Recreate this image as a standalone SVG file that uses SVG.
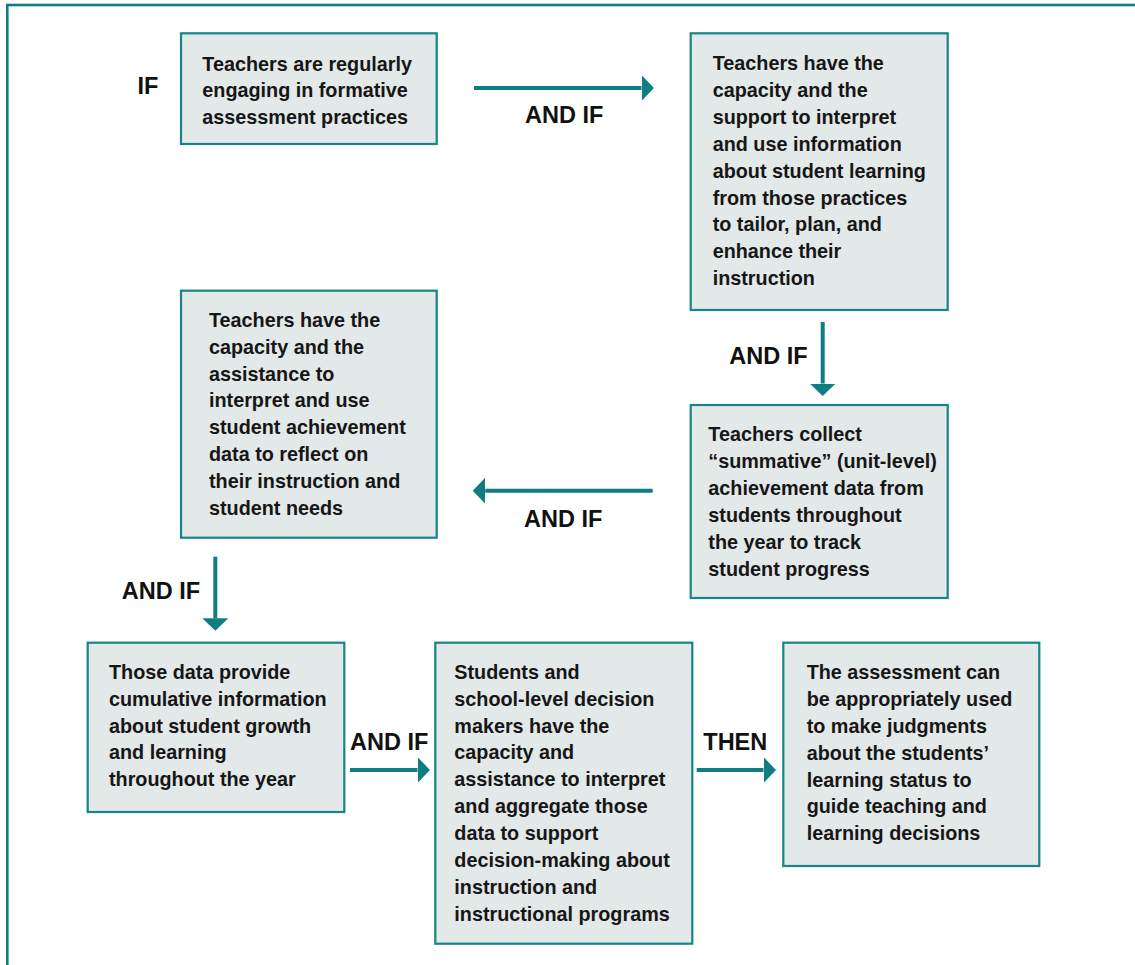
<svg xmlns="http://www.w3.org/2000/svg" width="1135" height="965" viewBox="0 0 1135 965">
<defs>
<style>
.frame{fill:none;stroke:#0f7e82;stroke-width:2.6}
.box{fill:#e3e8e8;stroke:#168488;stroke-width:2.2}
.t{font-family:"Liberation Sans",Arial,sans-serif;font-weight:bold;font-size:19.8px;fill:#161616}
.lbl{font-family:"Liberation Sans",Arial,sans-serif;font-weight:bold;font-size:23.5px;fill:#111}
.conn{stroke:#0f7e82;stroke-width:4;fill:none;marker-end:url(#ah)}
</style>
<marker id="ah" markerUnits="userSpaceOnUse" markerWidth="13" markerHeight="26" refX="0" refY="13" orient="auto">
<path d="M0,0 L12.5,13 L0,26 Z" fill="#0f7e82"/>
</marker>
</defs>
<rect x="0" y="0" width="1135" height="965" fill="#ffffff"/>
<rect class="frame" x="7.3" y="5" width="1150" height="990"/>

<g id="connectors">
<line class="conn" x1="474" y1="88" x2="641.5" y2="88"/>
<line class="conn" x1="822.7" y1="322" x2="822.7" y2="383.5"/>
<line class="conn" x1="652.7" y1="490.7" x2="485.2" y2="490.7"/>
<line class="conn" x1="215.3" y1="556.7" x2="215.3" y2="618.2"/>
<line class="conn" x1="350" y1="770" x2="417.5" y2="770"/>
<line class="conn" x1="696.7" y1="770" x2="763.5" y2="770"/>
<text class="lbl" x="137.5" y="94">IF</text>
<text class="lbl" x="525" y="123">AND IF</text>
<text class="lbl" x="729.3" y="364">AND IF</text>
<text class="lbl" x="524" y="527.3">AND IF</text>
<text class="lbl" x="121.7" y="599">AND IF</text>
<text class="lbl" x="350" y="750">AND IF</text>
<text class="lbl" x="703.3" y="750">THEN</text>
</g>

<g id="node1">
<rect class="box" x="181" y="33.3" width="255.7" height="110.7"/>
<text class="t"><tspan x="202.3" y="70.5">Teachers are regularly</tspan><tspan x="202.3" y="97.4">engaging in formative</tspan><tspan x="202.3" y="124.3">assessment practices</tspan></text>
</g>

<g id="node2">
<rect class="box" x="690.7" y="33.3" width="257" height="276.7"/>
<text class="t"><tspan x="712.7" y="70">Teachers have the</tspan><tspan x="712.7" y="96.9">capacity and the</tspan><tspan x="712.7" y="123.8">support to interpret</tspan><tspan x="712.7" y="150.7">and use information</tspan><tspan x="712.7" y="177.6">about student learning</tspan><tspan x="712.7" y="204.5">from those practices</tspan><tspan x="712.7" y="231.4">to tailor, plan, and</tspan><tspan x="712.7" y="258.3">enhance their</tspan><tspan x="712.7" y="285.2">instruction</tspan></text>
</g>

<g id="node3">
<rect class="box" x="181" y="290.7" width="255.7" height="247"/>
<text class="t"><tspan x="209" y="326.7">Teachers have the</tspan><tspan x="209" y="353.6">capacity and the</tspan><tspan x="209" y="380.5">assistance to</tspan><tspan x="209" y="407.4">interpret and use</tspan><tspan x="209" y="434.3">student achievement</tspan><tspan x="209" y="461.2">data to reflect on</tspan><tspan x="209" y="488.1">their instruction and</tspan><tspan x="209" y="515">student needs</tspan></text>
</g>

<g id="node4">
<rect class="box" x="690.7" y="405" width="257" height="193"/>
<text class="t"><tspan x="708.3" y="441">Teachers collect</tspan><tspan x="708.3" y="468">“summative” (unit-level)</tspan><tspan x="708.3" y="495">achievement data from</tspan><tspan x="708.3" y="522">students throughout</tspan><tspan x="708.3" y="549">the year to track</tspan><tspan x="708.3" y="576">student progress</tspan></text>
</g>

<g id="node5">
<rect class="box" x="87.7" y="642.7" width="256.6" height="169.3"/>
<text class="t"><tspan x="109" y="679.3">Those data provide</tspan><tspan x="109" y="706">cumulative information</tspan><tspan x="109" y="732.7">about student growth</tspan><tspan x="109" y="759.4">and learning</tspan><tspan x="109" y="786.1">throughout the year</tspan></text>
</g>

<g id="node6">
<rect class="box" x="435.3" y="642.7" width="257" height="301"/>
<text class="t"><tspan x="454.3" y="678.7">Students and</tspan><tspan x="454.3" y="705.6">school-level decision</tspan><tspan x="454.3" y="732.5">makers have the</tspan><tspan x="454.3" y="759.4">capacity and</tspan><tspan x="454.3" y="786.3">assistance to interpret</tspan><tspan x="454.3" y="813.2">and aggregate those</tspan><tspan x="454.3" y="840.1">data to support</tspan><tspan x="454.3" y="867">decision-making about</tspan><tspan x="454.3" y="893.9">instruction and</tspan><tspan x="454.3" y="920.8">instructional programs</tspan></text>
</g>

<g id="node7">
<rect class="box" x="783.3" y="642.7" width="256" height="223.3"/>
<text class="t"><tspan x="806.7" y="679.3">The assessment can</tspan><tspan x="806.7" y="706.1">be appropriately used</tspan><tspan x="806.7" y="732.9">to make judgments</tspan><tspan x="806.7" y="759.7">about the students’</tspan><tspan x="806.7" y="786.5">learning status to</tspan><tspan x="806.7" y="813.3">guide teaching and</tspan><tspan x="806.7" y="840.1">learning decisions</tspan></text>
</g>
</svg>
